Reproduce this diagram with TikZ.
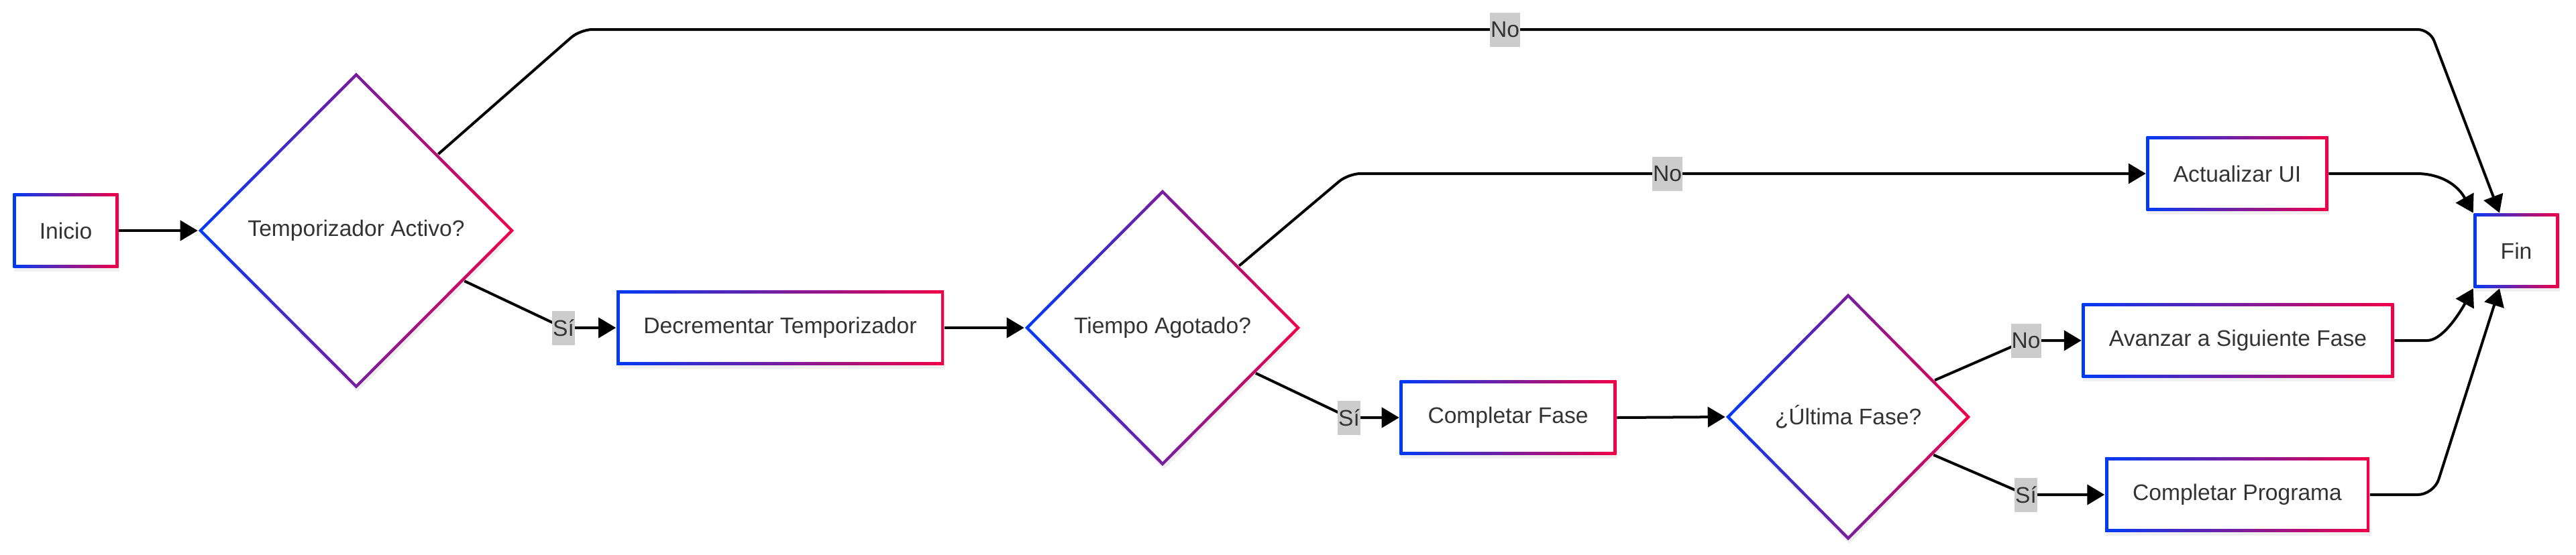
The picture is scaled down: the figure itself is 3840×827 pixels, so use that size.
\documentclass[tikz,border=0pt]{standalone}
\usepackage{fontspec}
\setmainfont{Liberation Sans}
\usetikzlibrary{shapes.geometric,arrows.meta,shadows}

\newlength{\du}
\setlength{\du}{0.25pt}

\definecolor{gradblue}{RGB}{0,58,245}
\definecolor{gradred}{RGB}{240,0,72}
\definecolor{txtgrey}{RGB}{51,51,51}
\definecolor{lblgrey}{RGB}{204,204,204}

\tikzset{
  boxshadow/.style={drop shadow={opacity=0.12, shadow xshift=1.5\du, shadow yshift=-5\du}},
  stepbox/.style={rectangle, minimum height=111\du, inner sep=0pt,
    left color=gradblue, right color=gradred, text=txtgrey,
    font=\fontsize{8.4}{10}\selectfont, boxshadow,
    path picture={\fill[white]
      ([shift={(4.5\du,-4.5\du)}]path picture bounding box.north west) rectangle
      ([shift={(-4.5\du,4.5\du)}]path picture bounding box.south east);}},
  decision/.style={diamond, inner sep=0pt,
    left color=gradblue, right color=gradred, text=txtgrey,
    font=\fontsize{8.4}{10}\selectfont, boxshadow,
    path picture={\fill[white]
      ([yshift=-6.4\du]path picture bounding box.north) --
      ([xshift=-6.4\du]path picture bounding box.east) --
      ([yshift=6.4\du]path picture bounding box.south) --
      ([xshift=6.4\du]path picture bounding box.west) -- cycle;}},
  edgelabel/.style={sharp corners, fill=lblgrey, text=txtgrey, inner xsep=1\du, inner ysep=0pt,
    minimum height=51\du, font=\fontsize{8.4}{10}\selectfont},
  flowline/.style={line width=1pt, -{Triangle[length=6.5pt,width=7.5pt]},
    rounded corners=4.5pt},
}

\begin{document}
\begin{tikzpicture}[x=1\du, y=-1\du]
\path[use as bounding box, fill=white] (0,0) rectangle (3840,827);

% nodes
\node[stepbox, minimum width=157\du] (inicio) at (98,344) {Inicio};
\node[decision, minimum width=471\du, minimum height=472\du] (tactivo) at (531,344) {Temporizador Activo?};
\node[stepbox, minimum width=488\du] (decr) at (1163,489) {Decrementar Temporizador};
\node[decision, minimum width=411\du, minimum height=413\du] (tagotado) at (1733,489) {Tiempo Agotado?};
\node[stepbox, minimum width=323\du] (cfase) at (2248,623) {Completar Fase};
\node[decision, minimum width=365\du, minimum height=369\du] (ufase) at (2755,622) {¿Última Fase?};
\node[stepbox, minimum width=271\du] (actui) at (3335,259) {Actualizar UI};
\node[stepbox, minimum width=465\du] (avanzar) at (3336,508) {Avanzar a Siguiente Fase};
\node[stepbox, minimum width=394\du] (cprog) at (3335,738) {Completar Programa};
\node[stepbox, minimum width=127\du] (fin) at (3751,374) {Fin};

% connectors
\draw[flowline] (inicio.east) -- (tactivo.west);
\draw[flowline] (tactivo.43) -- (865,44) -- node[edgelabel]{No} (3622,44) -- (fin.114);
\draw[flowline] (tactivo.-25) -- (840,489) node[edgelabel]{Sí} -- (decr.west);
\draw[flowline] (decr.east) -- (tagotado.west);
\draw[flowline] (tagotado.39) -- (2010,259) -- node[edgelabel, pos=0.4]{No} (actui.west);
\draw[flowline] (tagotado.-26) -- (2011,623) node[edgelabel]{Sí} -- (cfase.west);
\draw[flowline] (cfase.east) -- (ufase.west);
\draw[flowline] (ufase.23) -- (3020,508) node[edgelabel]{No} -- (avanzar.west);
\draw[flowline] (ufase.-24) -- (3020,738) node[edgelabel]{Sí} -- (cprog.west);
\draw[flowline] (actui.east) -- (3585,259) .. controls (3630,259) and (3660,270) .. (fin.north west);
\draw[flowline] (avanzar.east) -- (3600,508) .. controls (3640,508) and (3665,470) .. (fin.south west);
\draw[flowline, rounded corners=6pt] (cprog.east) -- (3628,738) -- (fin.-114);
\end{tikzpicture}
\end{document}
